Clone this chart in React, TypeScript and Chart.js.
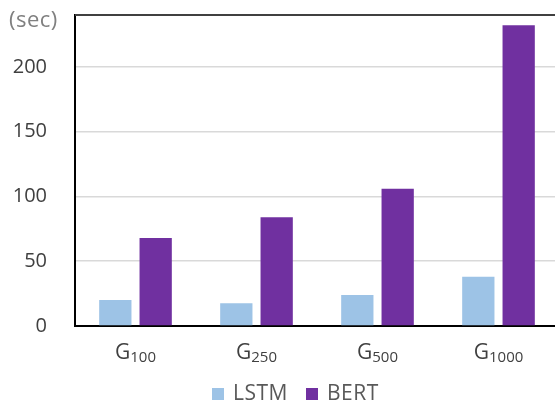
import React, { useEffect, useRef } from "react";
import { Chart, registerables } from "chart.js";

Chart.register(...registerables);

const categories = ["G100", "G250", "G500", "G1000"];
const labelMain = ["G", "G", "G", "G"];
const labelSub = ["100", "250", "500", "1000"];
const lstmValues = [20, 17.5, 24, 38];
const bertValues = [68, 84, 106, 232];
const yTicks = [0, 50, 100, 150, 200];
const seriesNames = ["LSTM", "BERT"];
const seriesColors = ["#9DC3E6", "#7030A0"];
const unitLabel = "(sec)";

const FONT = "'Open Sans', 'Noto Sans', sans-serif";

const customPlugin = {
  id: "customDecor",
  afterDraw(chart: any) {
    const ctx = chart.ctx;
    const { left, right, top } = chart.chartArea;
    ctx.save();
    // top border
    ctx.strokeStyle = "#404040";
    ctx.lineWidth = 2;
    ctx.beginPath();
    ctx.moveTo(left, top);
    ctx.lineTo(right, top);
    ctx.stroke();
    // unit label
    ctx.fillStyle = "#808080";
    ctx.font = `22px ${FONT}`;
    ctx.letterSpacing = "0.5px";
    ctx.textAlign = "left";
    ctx.textBaseline = "middle";
    ctx.fillText(unitLabel, 9, 21);
    ctx.letterSpacing = "0px";
    // x labels with subscripts
    const xs = chart.scales.x;
    ctx.fillStyle = "#404040";
    ctx.textBaseline = "alphabetic";
    categories.forEach((_, i) => {
      const cx = xs.getPixelForValue(i);
      ctx.font = `21px ${FONT}`;
      const wMain = ctx.measureText(labelMain[i]).width;
      ctx.font = `15px ${FONT}`;
      const wSub = ctx.measureText(labelSub[i]).width;
      const start = cx - (wMain + wSub) / 2;
      ctx.font = `21px ${FONT}`;
      ctx.fillText(labelMain[i], start, 359);
      ctx.font = `15px ${FONT}`;
      ctx.fillText(labelSub[i], start + wMain, 362);
    });
    // legend
    ctx.font = `21px ${FONT}`;
    ctx.letterSpacing = "0.5px";
    ctx.textBaseline = "middle";
    const legendX = [212, 306];
    const ly = 394;
    seriesNames.forEach((name, i) => {
      ctx.fillStyle = seriesColors[i];
      ctx.fillRect(legendX[i], ly - 6, 12, 12);
      ctx.fillStyle = "#595959";
      ctx.fillText(name, legendX[i] + 21, ly);
    });
    ctx.restore();
  },
};

export default function App() {
  const ref = useRef<HTMLCanvasElement | null>(null);
  useEffect(() => {
    document.body.style.margin = "0";
    document.body.style.overflow = "hidden";
    if (!ref.current) return;
    const chart = new Chart(ref.current, {
      type: "bar",
      data: {
        labels: categories,
        datasets: [
          {
            label: seriesNames[0],
            data: lstmValues,
            backgroundColor: seriesColors[0],
            categoryPercentage: 0.667,
            barPercentage: 0.8,
          },
          {
            label: seriesNames[1],
            data: bertValues,
            backgroundColor: seriesColors[1],
            categoryPercentage: 0.667,
            barPercentage: 0.8,
          },
        ],
      },
      options: {
        animation: false,
        responsive: true,
        maintainAspectRatio: false,
        layout: { padding: { top: 15, right: 0, bottom: 79, left: 0 } },
        plugins: {
          legend: { display: false },
          tooltip: { enabled: false },
        },
        scales: {
          x: {
            ticks: { display: false },
            grid: { display: false, drawTicks: false },
            border: { display: true, color: "#000000", width: 2 },
            afterFit(scale: any) {
              scale.height = 0;
              scale.paddingLeft = 0;
              scale.paddingRight = 0;
            },
          },
          y: {
            min: 0,
            max: 240,
            afterBuildTicks(scale: any) {
              scale.ticks = yTicks.map((v) => ({ value: v }));
            },
            afterFit(scale: any) {
              scale.width = 75;
              scale.paddingTop = 0;
              scale.paddingBottom = 0;
            },
            ticks: {
              color: "#404040",
              font: { family: FONT, size: 20 },
              padding: 28,
            },
            grid: {
              color: (c: any) => (c.tick && c.tick.value === 0 ? "rgba(0,0,0,0)" : "#D9D9D9"),
              lineWidth: 1.5,
              drawTicks: false,
            },
            border: { display: true, color: "#000000", width: 2 },
          },
        },
      },
      plugins: [customPlugin],
    });
    return () => chart.destroy();
  }, []);
  return (
    <div style={{ position: "absolute", left: 0, top: 0, width: 559, height: 405, overflow: "hidden" }}>
      <canvas ref={ref} />
    </div>
  );
}
